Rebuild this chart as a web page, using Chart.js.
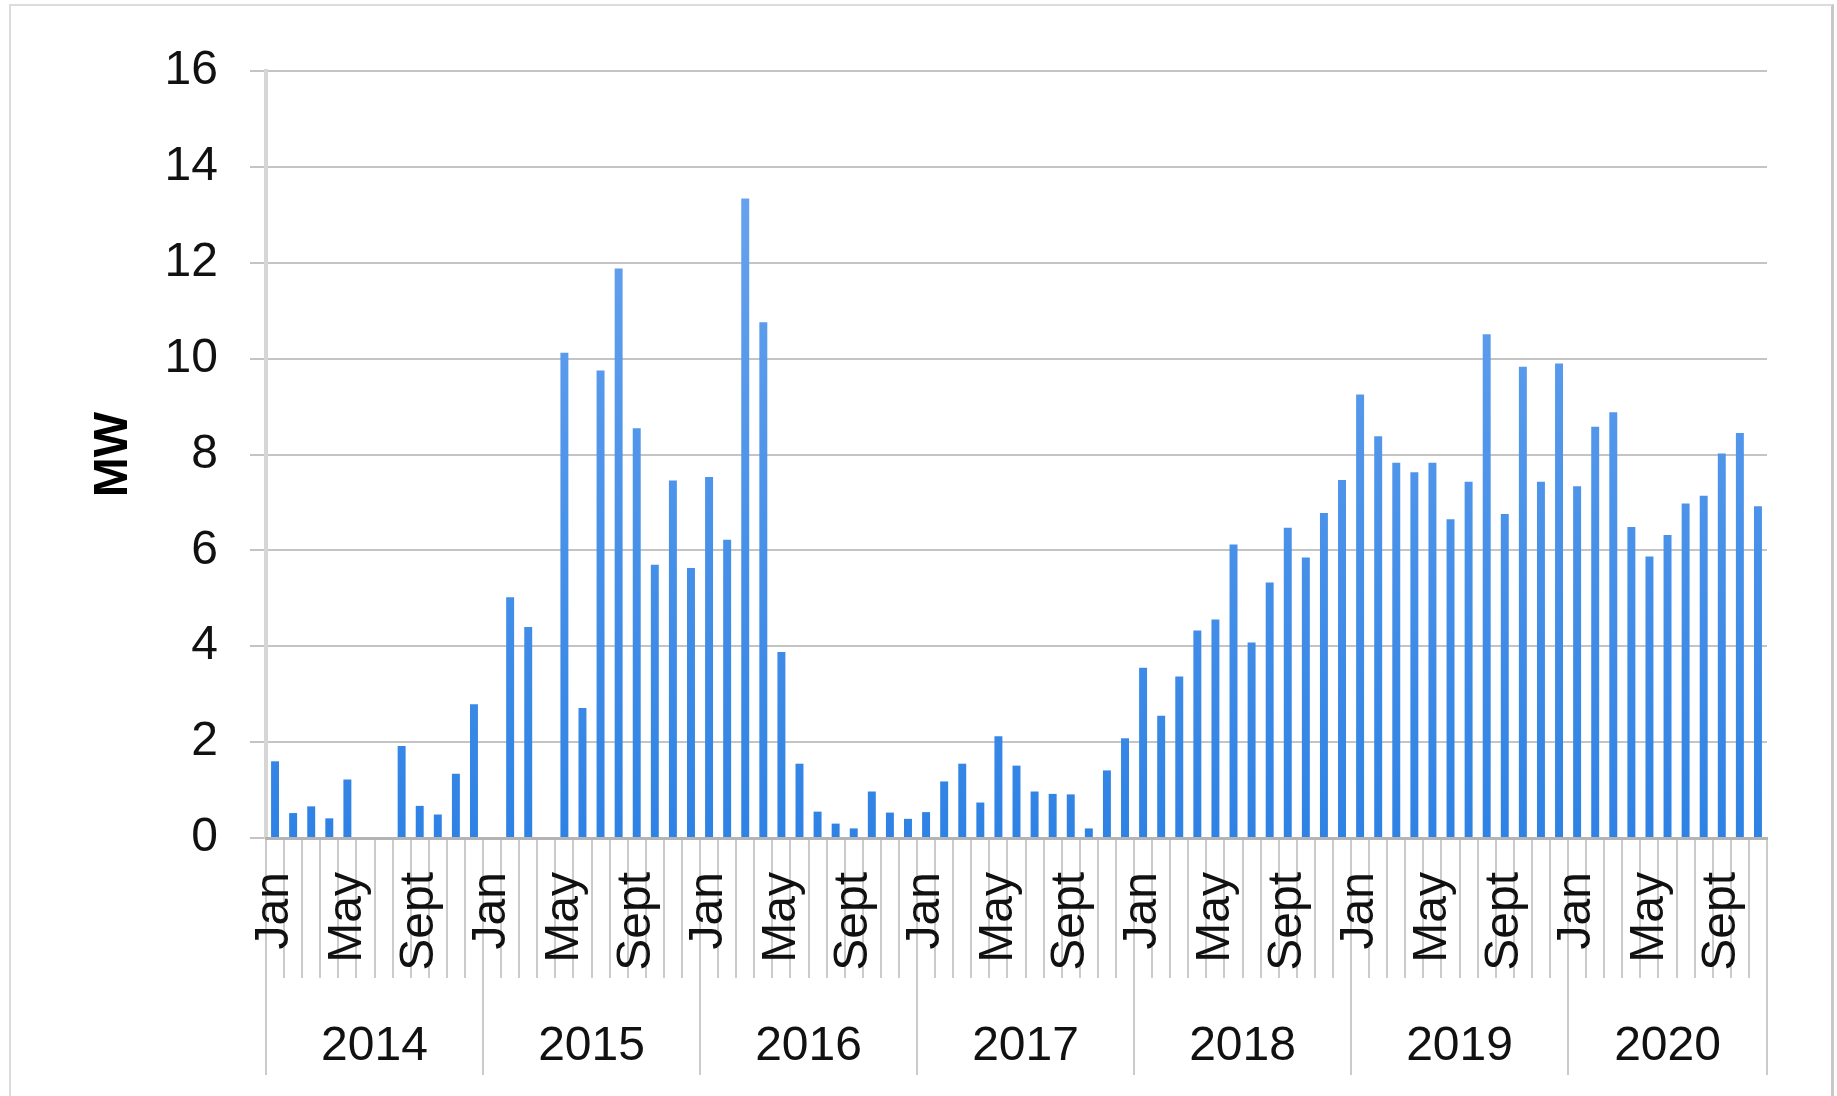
<!DOCTYPE html>
<html lang="en">
    <head>
        <meta charset="UTF-8" />
        <title>MW by month, 2014-2020</title>
        <script src="https://cdn.jsdelivr.net/npm/chart.js"></script>
        <style>
            body { margin: 0; background: #fff; }
            #wrap { position: relative; width: 1837px; height: 1096px; }
            #frame {
                position: absolute; left: 9px; top: 4px; width: 1820px; height: 1100px;
                border-left: 2px solid #dcdcdc; border-top: 2px solid #dcdcdc;
                border-right: 3px solid #c8c8c8; pointer-events: none;
            }
        </style>
    </head>
    <body>
        <div id="wrap">
            <canvas id="myChart" width="1837" height="1096"></canvas>
            <div id="frame"></div>
        </div>

        <script>
            // monthly values, MW
            const mw2014 = [1.6, 0.52, 0.66, 0.41, 1.22, 0, 0, 1.92, 0.67, 0.49, 1.34, 2.79];
            const mw2015 = [0, 5.02, 4.4, 0, 10.12, 2.71, 9.75, 11.88, 8.55, 5.7, 7.46, 5.63];
            const mw2016 = [7.53, 6.22, 13.34, 10.76, 3.88, 1.55, 0.55, 0.3, 0.2, 0.97, 0.53, 0.4];
            const mw2017 = [0.54, 1.18, 1.55, 0.74, 2.12, 1.51, 0.97, 0.92, 0.91, 0.2, 1.41, 2.08];
            const mw2018 = [3.55, 2.55, 3.37, 4.33, 4.56, 6.12, 4.08, 5.33, 6.47, 5.85, 6.78, 7.47];
            const mw2019 = [9.25, 8.38, 7.83, 7.63, 7.83, 6.65, 7.43, 10.51, 6.76, 9.83, 7.43, 9.9];
            const mw2020 = [7.34, 8.58, 8.88, 6.49, 5.87, 6.32, 6.98, 7.14, 8.02, 8.45, 6.92];

            const years = ["2014", "2015", "2016", "2017", "2018", "2019", "2020"];
            const months = ["Jan", "Feb", "Mar", "Apr", "May", "Jun", "Jul", "Aug", "Sept", "Oct", "Nov", "Dec"];
            const shownMonths = ["Jan", "May", "Sept"];
            const yTicks = [0, 2, 4, 6, 8, 10, 12, 14, 16];

            const perYear = [mw2014, mw2015, mw2016, mw2017, mw2018, mw2019, mw2020];
            const values = [].concat(...perYear);
            const labels = [];
            perYear.forEach((arr) => arr.forEach((_, i) => labels.push(months[i])));

            // year boundaries and midpoints, in month units on the second axis
            const bounds = [0];
            perYear.forEach((arr) => bounds.push(bounds[bounds.length - 1] + arr.length));
            const mids = years.map((_, i) => (bounds[i] + bounds[i + 1]) / 2);

            const font = { family: "'Liberation Sans', Arial, sans-serif", size: 48 };

            function barFill(ctx) {
                const area = ctx.chart.chartArea;
                if (!area) return "#4a90e8";
                const g = ctx.chart.ctx.createLinearGradient(0, area.top, 0, area.bottom);
                g.addColorStop(0, "#72a8f0");
                g.addColorStop(1, "#2e82e4");
                return g;
            }

            const config = {
                type: "bar",
                data: {
                    labels: labels,
                    datasets: [
                        {
                            label: "MW",
                            data: values,
                            backgroundColor: barFill,
                            categoryPercentage: 1,
                            barPercentage: 0.44,
                        },
                    ],
                },
                options: {
                    responsive: false,
                    animation: false,
                    layout: { padding: { left: 0, top: 71, right: 70, bottom: 20 } },
                    plugins: { legend: { display: false }, tooltip: { enabled: false } },
                    scales: {
                        y: {
                            min: 0,
                            max: 16,
                            afterFit: (s) => { s.width = 266; },
                            afterBuildTicks: (s) => { s.ticks = yTicks.map((v) => ({ value: v })); },
                            ticks: { font: font, color: "#111", padding: 32 },
                            grid: { color: "#c4c4c4", lineWidth: 2, tickLength: 16 },
                            border: { color: "#d6d6d6", width: 4 },
                            title: {
                                display: true,
                                text: "MW",
                                color: "#000",
                                font: { family: font.family, size: 48, weight: "bold" },
                                padding: { top: 85, bottom: 0 },
                            },
                        },
                        x: {
                            weight: 0,
                            afterFit: (s) => { s.height = 133; },
                            ticks: {
                                font: font,
                                color: "#111",
                                autoSkip: false,
                                minRotation: 90,
                                maxRotation: 90,
                                padding: -106,
                                callback: function (v) {
                                    const m = this.getLabelForValue(v);
                                    return shownMonths.includes(m) ? m : "";
                                },
                            },
                            grid: {
                                offset: true,
                                drawOnChartArea: false,
                                color: "#cbcbcb",
                                lineWidth: 2,
                                tickLength: 140,
                            },
                            border: { color: "#b4b4b4", width: 3 },
                        },
                        x2: {
                            type: "linear",
                            position: "bottom",
                            weight: 1,
                            min: 0,
                            max: bounds[bounds.length - 1],
                            offset: false,
                            afterFit: (s) => { s.height = 105; },
                            afterBuildTicks: (s) => {
                                s.ticks = bounds.concat(mids).sort((a, b) => a - b).map((v) => ({ value: v }));
                            },
                            ticks: {
                                font: font,
                                color: "#111",
                                autoSkip: false,
                                maxRotation: 0,
                                padding: -57,
                                callback: (v) => {
                                    const i = mids.indexOf(v);
                                    return i >= 0 ? years[i] : "";
                                },
                            },
                            grid: {
                                offset: false,
                                drawOnChartArea: false,
                                lineWidth: 2,
                                tickLength: 104,
                                color: (c) => (c.tick && bounds.includes(c.tick.value) ? "#cbcbcb" : "rgba(0,0,0,0)"),
                            },
                            border: { display: false },
                        },
                    },
                },
            };

            document.addEventListener("DOMContentLoaded", function () {
                const ctx = document.getElementById("myChart").getContext("2d");
                new Chart(ctx, config);
            });
        </script>
    </body>
</html>
